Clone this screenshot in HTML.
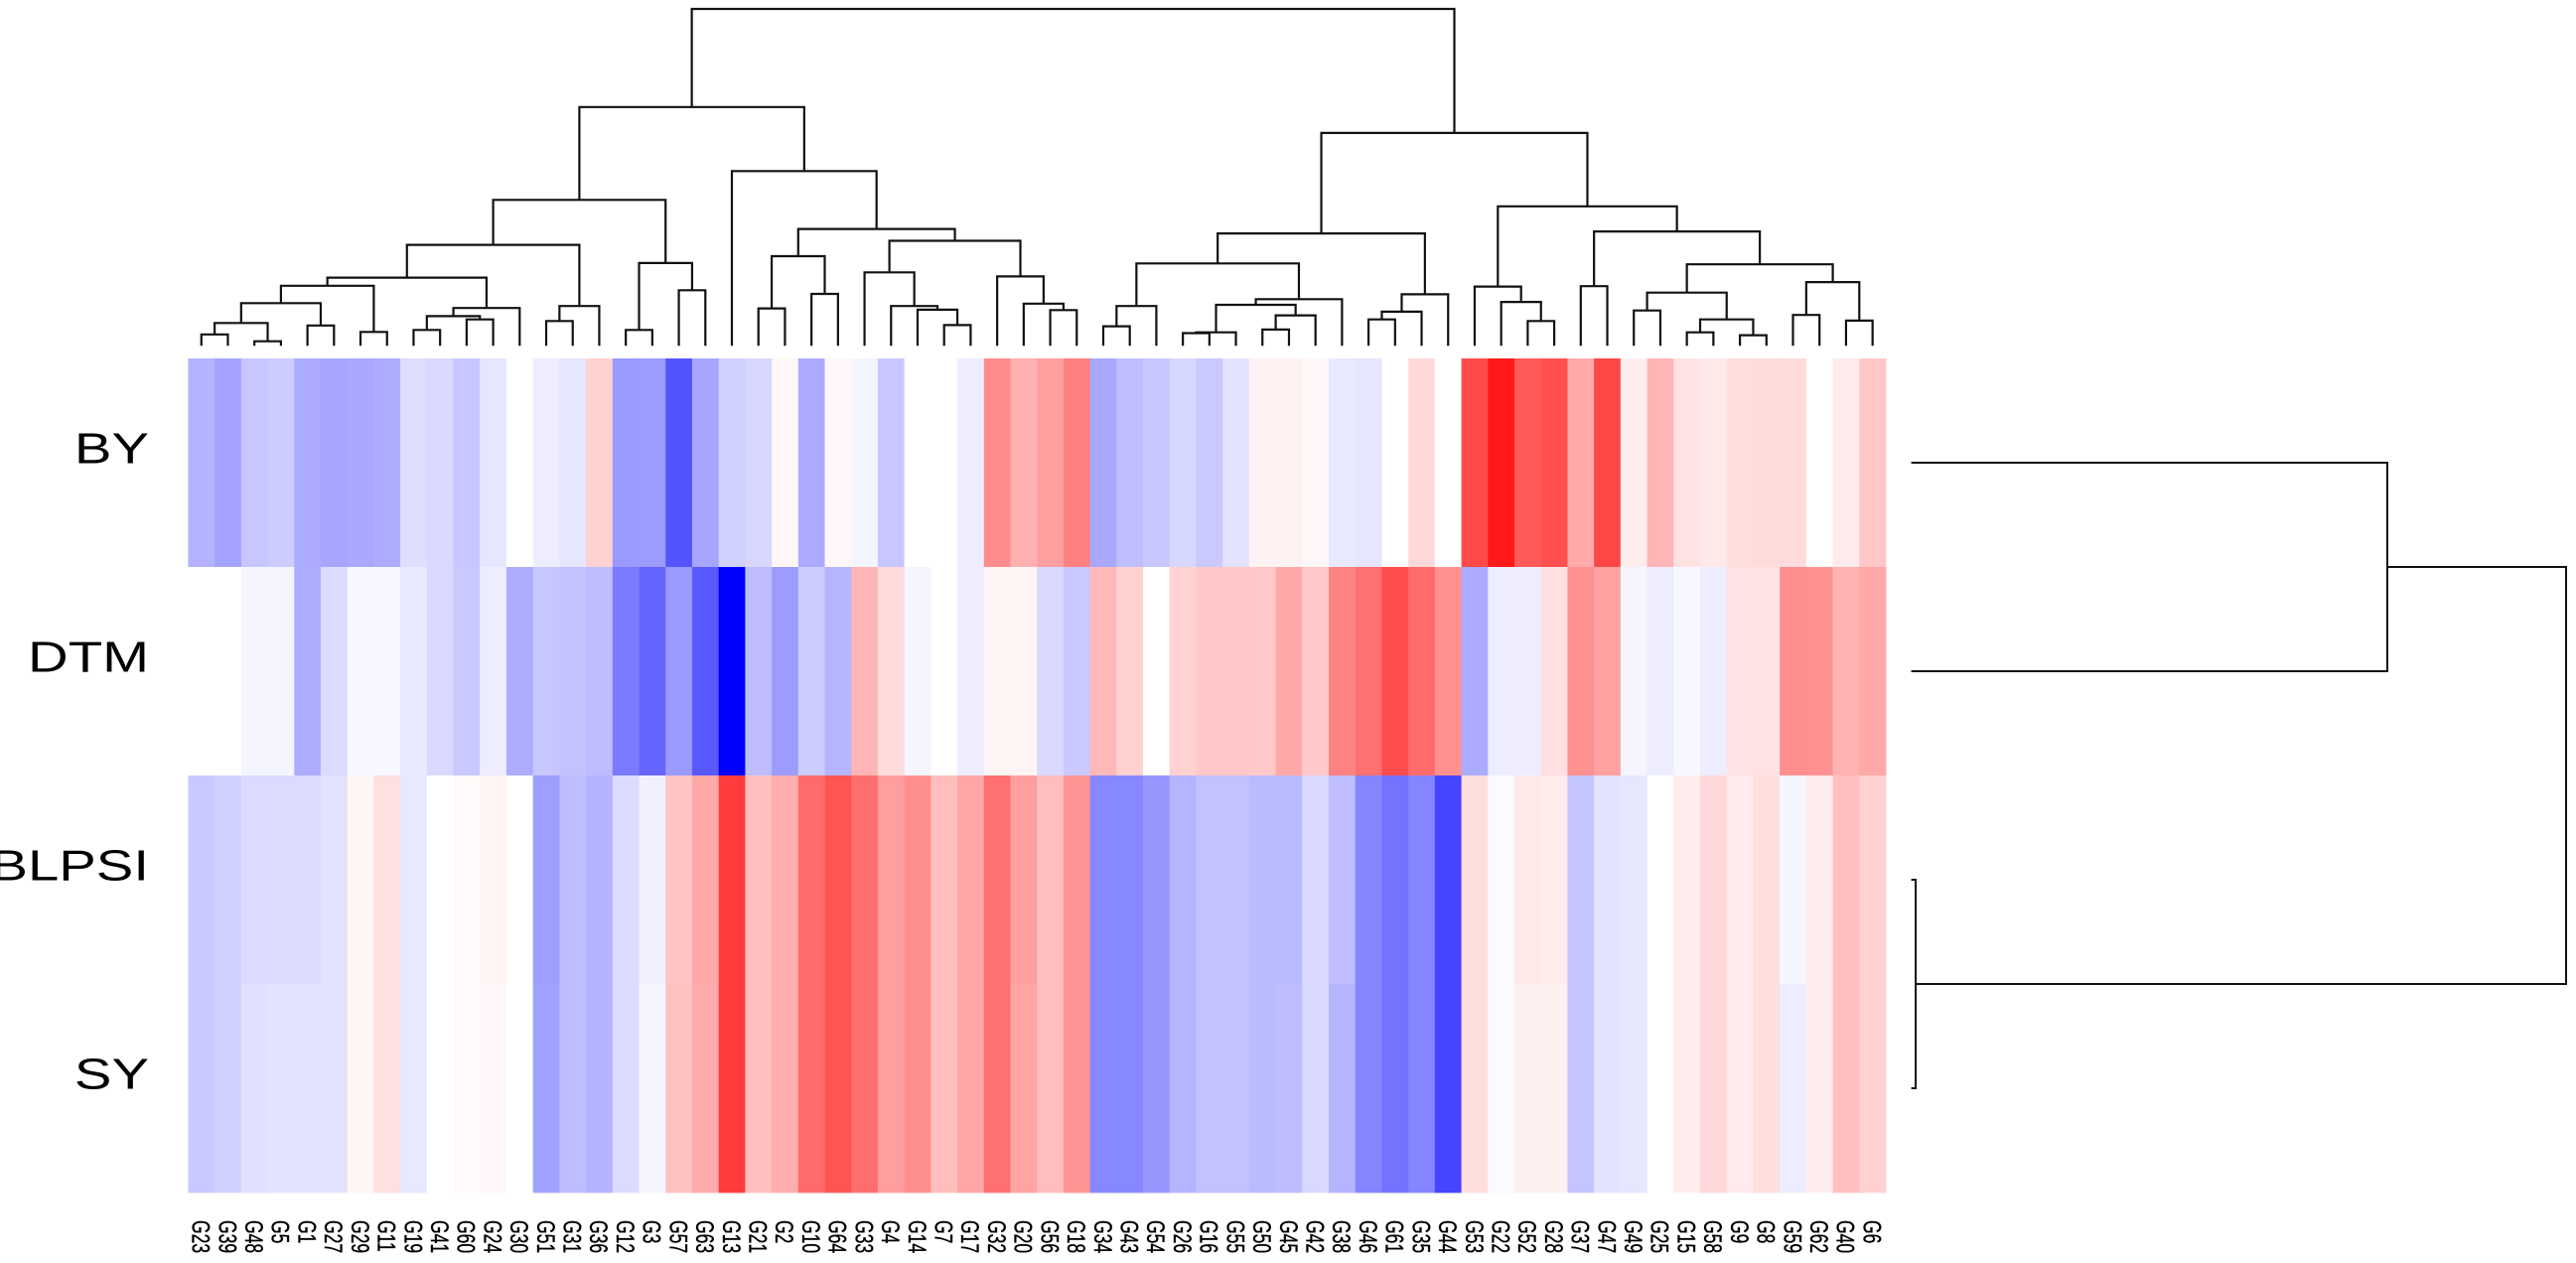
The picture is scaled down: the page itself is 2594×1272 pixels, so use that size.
<!DOCTYPE html>
<html>
<head>
<meta charset="utf-8">
<title>Clustered heatmap</title>
<style>
html,body{margin:0;padding:0;background:#fff;width:2594px;height:1272px;overflow:hidden}
svg{display:block}
text{font-family:"Liberation Sans",sans-serif;fill:#000}
</style>
</head>
<body>
<svg id="chart" width="2594" height="1272" viewBox="0 0 2594 1272" xmlns="http://www.w3.org/2000/svg">
  <g id="cells"></g>
  <g id="topTree"></g>
  <g id="sideTree"></g>
  <g id="rowText"></g>
  <g id="colText"></g>
</svg>
<script>
var columnLabels = ["G23","G39","G48","G5","G1","G27","G29","G11","G19","G41","G60","G24","G30","G51","G31","G36","G12","G3","G57","G63","G13","G21","G2","G10","G64","G33","G4","G14","G7","G17","G32","G20","G56","G18","G34","G43","G54","G26","G16","G55","G50","G45","G42","G38","G46","G61","G35","G44","G53","G22","G52","G28","G37","G47","G49","G25","G15","G58","G9","G8","G59","G62","G40","G6"];
var rowLabels = ["BY","DTM","BLPSI","SY"];

var valuesBY = [-30,-36,-22,-20,-33,-35,-34,-32,-13,-15,-22,-10,0,-7,-10,18,-40,-39,-67,-35,-18,-16,3,-33,3,-4,-22,0,0,-7,45,31,38,50,-34,-25,-22,-16,-21,-11,5,5,3,-9,-10,0,15,0,71,90,65,69,33,72,7,29,11,9,13,14,14,0,8,22];
var valuesDTM = [0,0,-4,-4,-32,-14,-3,-3,-9,-15,-21,-7,-32,-22,-24,-26,-52,-60,-40,-65,-100,-26,-39,-20,-29,29,14,-4,0,-7,4,4,-15,-21,28,18,0,18,22,22,21,34,21,49,56,70,58,43,-33,-7,-7,12,43,37,-4,-7,-3,-7,11,11,44,43,30,34];
var valuesBLPSI = [-21,-18,-14,-14,-14,-11,4,12,-9,0,2,4,0,-38,-26,-30,-14,-6,23,34,76,25,32,58,67,57,38,44,26,35,56,38,26,42,-47,-47,-41,-29,-24,-24,-27,-27,-15,-26,-48,-55,-48,-73,13,-2,9,8,-23,-11,-10,0,7,15,8,13,-4,7,25,18];
var valuesSY = [-21,-18,-12,-11,-11,-11,4,12,-9,0,2,3,0,-37,-26,-30,-14,-4,24,33,76,25,32,58,67,57,38,44,26,35,56,36,26,42,-47,-47,-41,-29,-24,-24,-27,-26,-15,-29,-48,-55,-48,-73,13,-2,6,6,-23,-11,-10,0,7,15,8,13,-7,7,25,18];

var topMergeLeft  = [-1,-3,1,-5,3,-7,5,-9,-11,8,10,7,-14,13,12,-17,-19,16,15,-22,-24,20,-29,-28,-27,-26,-33,-32,-31,26,22,-21,19,-35,34,-38,36,-41,38,37,40,35,-45,43,44,42,-51,-50,-49,-53,-55,-57,-59,52,51,-61,-63,56,55,50,49,46,33];
var topMergeRight = [-2,-4,2,-6,4,-8,6,-10,-12,9,-13,11,-15,-16,14,-18,-20,17,18,-23,-25,21,-30,23,24,25,-34,27,28,29,30,31,32,-36,-37,-39,-40,-42,-43,39,-44,41,-46,-47,-48,45,-52,47,48,-54,-56,-58,-60,53,54,-62,-64,57,58,59,60,61,62];
var topMergeHeight = [11.4,4.5,22.9,20.4,42.9,13.9,60.4,15.9,26.5,29.8,38,68.6,24.9,40,101.6,15.9,55.9,83.3,146.9,37.6,52.2,90.2,20.8,36.3,40,73.9,35.9,42.4,69.8,105.7,117.6,175.9,240.4,19.6,40,12.7,13.5,16.3,30.6,41.2,46.9,82.9,26.5,34.3,51.8,113.1,24.9,44.1,59.6,60,35.5,13.5,10.6,26.5,53.5,31,25.3,64.1,82,115.1,140.4,214.3,339.2];

var rowMergeLeft = [-3,-1,1];
var rowMergeRight = [-4,-2,2];
var rowMergeHeight = [4.5,479.4,659.4];

var NS = "http://www.w3.org/2000/svg";
var matrix = [valuesBY, valuesDTM, valuesBLPSI, valuesSY];

function xScale(i){ return 189.4 + i * (1709.6 / columnLabels.length); }
function yScale(r){ return 361 + r * (840 / rowLabels.length); }
function topY(h){ return 348.2 - h; }
function sideX(h){ return 1924.6 + h; }
function colour(v){
  var t = Math.max(-1, Math.min(1, v / 100));
  var c = Math.round(255 * (1 - Math.abs(t)));
  return t < 0 ? "rgb(" + c + "," + c + ",255)" : "rgb(255," + c + "," + c + ")";
}
function make(tag, parent){
  var el = document.createElementNS(NS, tag);
  parent.appendChild(el);
  return el;
}

var cellsG = document.getElementById("cells");
for (var r = 0; r < matrix.length; r++) {
  for (var c = 0; c < columnLabels.length; c++) {
    var cell = make("rect", cellsG);
    cell.setAttribute("x", xScale(c));
    cell.setAttribute("y", yScale(r));
    cell.setAttribute("width", xScale(c + 1) - xScale(c) + 0.4);
    cell.setAttribute("height", yScale(r + 1) - yScale(r) + 0.4);
    cell.setAttribute("fill", colour(matrix[r][c]));
    
    
  }
}

var topG = document.getElementById("topTree");
var topPos = [];
function topRef(ref){
  if (ref < 0) { return { p: (xScale(-ref - 1) + xScale(-ref)) / 2, h: 0 }; }
  return topPos[ref - 1];
}
for (var m = 0; m < topMergeHeight.length; m++) {
  var a = topRef(topMergeLeft[m]);
  var b = topRef(topMergeRight[m]);
  var h = topMergeHeight[m];
  var link = make("path", topG);
  link.setAttribute("d", "M" + a.p + " " + topY(a.h) + "V" + topY(h) + "H" + b.p + "V" + topY(b.h));
  link.setAttribute("fill", "none");
  link.setAttribute("stroke", "#111");
  link.setAttribute("stroke-width", "2.2");
  
  
  topPos.push({ p: (a.p + b.p) / 2, h: h });
}

var sideG = document.getElementById("sideTree");
var sidePos = [];
function sideRef(ref){
  if (ref < 0) { return { p: (yScale(-ref - 1) + yScale(-ref)) / 2, h: 0 }; }
  return sidePos[ref - 1];
}
for (var s = 0; s < rowMergeHeight.length; s++) {
  var ra = sideRef(rowMergeLeft[s]);
  var rb = sideRef(rowMergeRight[s]);
  var rh = rowMergeHeight[s];
  var rowLink = make("path", sideG);
  rowLink.setAttribute("d", "M" + sideX(ra.h) + " " + ra.p + "H" + sideX(rh) + "V" + rb.p + "H" + sideX(rb.h));
  rowLink.setAttribute("fill", "none");
  rowLink.setAttribute("stroke", "#111");
  rowLink.setAttribute("stroke-width", "2");
  
  
  sidePos.push({ p: (ra.p + rb.p) / 2, h: rh });
}

var rowG = document.getElementById("rowText");
for (var rl = 0; rl < rowLabels.length; rl++) {
  var rt = make("text", rowG);
  rt.setAttribute("transform", "translate(150," + (yScale(rl) + 105.5) + ") scale(1.28,1)");
  rt.setAttribute("text-anchor", "end");
  rt.setAttribute("font-size", "44");
  rt.textContent = rowLabels[rl];
  
  
}

var colG = document.getElementById("colText");
for (var cl = 0; cl < columnLabels.length; cl++) {
  var ct = make("text", colG);
  var cx = (xScale(cl) + xScale(cl + 1)) / 2;
  ct.setAttribute("transform", "translate(" + (cx - 9.2) + ",1229) rotate(90) scale(0.7,1)");
  ct.setAttribute("font-size", "25");
  ct.setAttribute("stroke", "#000");
  ct.setAttribute("stroke-width", "0.4");
  ct.textContent = columnLabels[cl];
  
  
}
</script>
</body>
</html>
